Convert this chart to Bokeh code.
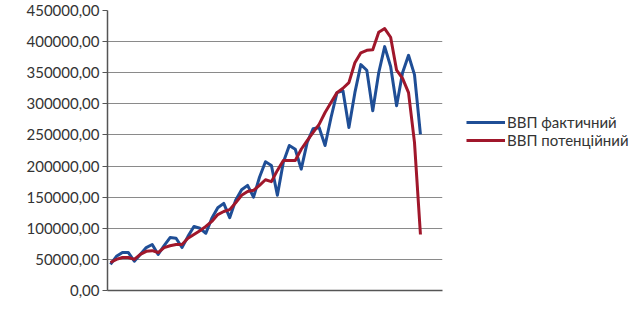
from bokeh.plotting import figure
from bokeh.models import Legend, LegendItem, FixedTicker, Range1d
from bokeh.embed import file_html
from bokeh.resources import INLINE

# Quarterly index
quarters = list(range(53))

gdp_actual = [42000, 55000, 61000, 61000, 47000, 58000, 69000, 74000, 58000, 72000,
              85000, 84000, 69000, 87000, 103000, 100000, 92000, 116000, 133000, 140000,
              117000, 145000, 162000, 169000, 150000, 182000, 207000, 201000, 153000, 206000,
              233000, 227000, 195000, 238000, 260000, 262000, 233000, 278000, 318000, 321000,
              262000, 318000, 363000, 354000, 289000, 350000, 392000, 360000, 297000, 350000,
              378000, 347000, 251000]

gdp_potential = [45000, 50000, 53000, 53000, 50000, 58000, 63000, 64000, 61000, 69000,
                 72000, 74000, 74000, 84000, 90000, 96000, 103000, 111000, 122000, 127000,
                 130000, 141000, 153000, 159000, 161000, 169000, 178000, 175000, 193000, 209000,
                 209000, 209000, 227000, 241000, 254000, 267000, 286000, 302000, 318000, 325000,
                 334000, 366000, 382000, 386000, 387000, 415000, 421000, 407000, 354000, 341000,
                 318000, 238000, 90000]

tick_values = [0, 50000, 100000, 150000, 200000, 250000, 300000, 350000, 400000, 450000]
tick_labels = ["0,00", "50000,00", "100000,00", "150000,00", "200000,00", "250000,00",
               "300000,00", "350000,00", "400000,00", "450000,00"]

series_names = ["ВВП фактичний", "ВВП потенційний"]
colors = ["#1f4e96", "#a0172b"]

FONT = "Lato"

p = figure(frame_width=335, frame_height=280, output_backend="svg", toolbar_location=None,
           x_range=Range1d(-0.5, 55.7), y_range=Range1d(0, 450000),
           min_border_left=107, min_border_right=0, min_border_top=10, min_border_bottom=8)

p.outline_line_color = None
p.background_fill_color = "white"
p.border_fill_color = "white"

r1 = p.line(quarters, gdp_actual, line_color=colors[0], line_width=3, line_join="round")
r2 = p.line(quarters, gdp_potential, line_color=colors[1], line_width=3, line_join="round")

# y axis
p.yaxis.ticker = FixedTicker(ticks=tick_values)
p.yaxis.major_label_overrides = {v: l for v, l in zip(tick_values, tick_labels)}
p.yaxis.major_label_text_font = FONT
p.yaxis.major_label_text_font_size = "15px"
p.yaxis.major_label_text_color = "#333333"
p.yaxis.axis_line_color = "#555555"
p.yaxis.axis_line_width = 1.5
p.yaxis.major_tick_line_color = "#555555"
p.yaxis.major_tick_out = 5
p.yaxis.major_tick_in = 0
p.yaxis.minor_tick_line_color = None
p.yaxis.major_label_standoff = 3

# x axis: line only
p.xaxis.ticker = FixedTicker(ticks=[])
p.xaxis.major_tick_line_color = None
p.xaxis.minor_tick_line_color = None
p.xaxis.axis_line_color = "#555555"
p.xaxis.axis_line_width = 1.5

p.xgrid.grid_line_color = None
p.ygrid.ticker = FixedTicker(ticks=tick_values)
p.ygrid.grid_line_color = "#8a8a8a"
p.ygrid.grid_line_width = 1

legend = Legend(items=[LegendItem(label=series_names[0], renderers=[r1]),
                       LegendItem(label=series_names[1], renderers=[r2])],
                location=(24, 141))
legend.label_text_font = FONT
legend.label_text_font_size = "15px"
legend.label_text_color = "#333333"
legend.glyph_width = 39
legend.glyph_height = 18
legend.label_height = 18
legend.label_standoff = 2
legend.spacing = 0
legend.margin = 0
legend.padding = 0
legend.border_line_color = None
legend.background_fill_alpha = 0
p.add_layout(legend, "right")

open("out.html", "w").write(file_html(p, INLINE))
